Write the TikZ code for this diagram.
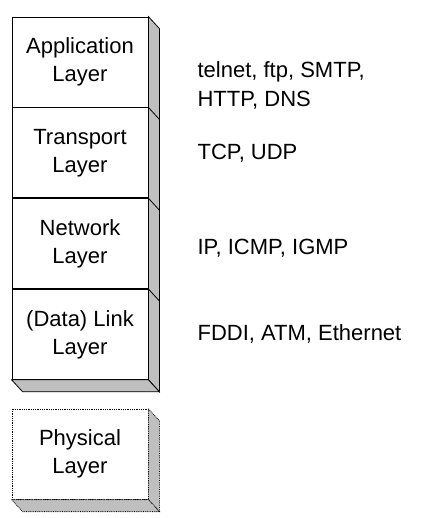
\documentclass[tikz,border=0pt]{standalone}
\usepackage{fontspec}
\setmainfont{Liberation Sans}
\usetikzlibrary{calc,positioning}
\tikzset{
  layerbox/.style={draw, fill=white, line width=0.8pt,
    minimum width=136pt, minimum height=90pt, inner sep=0pt,
    align=center, font=\fontsize{22}{28}\selectfont},
  protolabel/.style={anchor=west, align=left, inner sep=0pt,
    font=\fontsize{22}{29}\selectfont},
  sideface/.style={draw, fill=gray!50, line width=0.8pt},
}

\begin{document}
\begin{tikzpicture}[x=1pt, y=-1pt]
  \useasboundingbox (0,0) rectangle (445,518);

  % the stack
  \node[layerbox] (app) at (80,62) {Application\\Layer};
  \node[layerbox, below=0pt of app] (trans) {Transport\\Layer};
  \node[layerbox, below=0pt of trans] (net) {Network\\Layer};
  \node[layerbox, below=0pt of net] (link) {(Data) Link\\Layer};
  \node[layerbox, densely dotted, below=29pt of link] (phys) {Physical\\Layer};

  % 3D faces of the stack
  \draw[sideface] (app.north east) -- ++(11,12) -- ($(link.south east)+(11,12)$)
    -- (link.south east) -- cycle;
  \draw[sideface] (link.south west) -- ++(11,12) -- ($(link.south east)+(11,12)$)
    -- (link.south east) -- cycle;
  \foreach \lay in {trans,net,link}
    \draw[line width=0.8pt] (\lay.north east) -- ++(11,12);

  % 3D faces of the physical layer
  \draw[sideface, densely dotted] (phys.north east) -- ++(11,12)
    -- ($(phys.south east)+(11,12)$) -- (phys.south east) -- cycle;
  \draw[sideface, densely dotted] (phys.south west) -- ++(11,12)
    -- ($(phys.south east)+(11,12)$) -- (phys.south east) -- cycle;

  % protocols
  \node[protolabel, right=49pt of app.east, yshift=-23pt] (appproto) {telnet, ftp, SMTP,\\HTTP, DNS};
  \node[protolabel, right=49pt of trans.east] (transproto) {TCP, UDP};
  \node[protolabel, right=49pt of net.east, yshift=-5pt] (netproto) {IP, ICMP, IGMP};
  \node[protolabel, right=49pt of link.east] (linkproto) {FDDI, ATM, Ethernet};
\end{tikzpicture}
\end{document}
